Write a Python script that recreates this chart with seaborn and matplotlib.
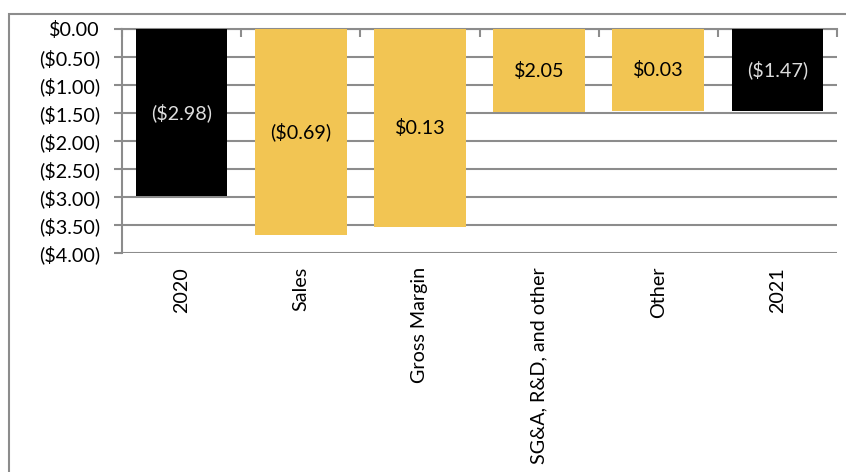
import matplotlib
matplotlib.use("Agg")
import matplotlib.pyplot as plt
from matplotlib.patches import Rectangle
from matplotlib.ticker import FixedLocator, FuncFormatter
import seaborn as sns
import pandas as pd
import numpy as np

categories = ["2020", "Sales", "Gross Margin", "SG&A, R&D, and other", "Other", "2021"]
changes = [-2.98, -0.69, 0.13, 2.05, 0.03, -1.47]
is_total = [True, False, False, False, False, True]
bar_ends = [-2.98, -3.67, -3.54, -1.49, -1.46, -1.47]

yellow = "#F2C553"
black = "#000000"
grid_gray = "#8C8C8C"

sns.set_theme(style="white")
plt.rcParams["font.family"] = ["Lato", "DejaVu Sans"]
FS = 14.2

df = pd.DataFrame({"cat": categories, "val": bar_ends})
palette = {c: (black if t else yellow) for c, t in zip(categories, is_total)}

fig = plt.figure(figsize=(8.46, 4.72), dpi=100)
ax = fig.add_axes([122 / 846, 1 - 253 / 472, (837 - 122) / 846, (253 - 29) / 472])

# outer chart frame
fig.patches.append(Rectangle((9 / 846, -0.1), 1.2, 1 - 14 / 472 + 0.1, transform=fig.transFigure,
                             fill=False, edgecolor=grid_gray, linewidth=1.5, zorder=0))

sns.barplot(data=df, x="cat", y="val", hue="cat", palette=palette, width=0.77,
            saturation=1, legend=False, ax=ax, zorder=3, linewidth=0)

ax.set_ylim(-4, 0)
ax.set_xlim(-0.5, 5.5)
ax.set_yticks(np.arange(-4, 0.01, 0.5))

def fmt(v, pos=None):
    if v < -1e-9:
        return "(${:.2f})".format(-v)
    return "${:.2f}".format(abs(v))

ax.yaxis.set_major_formatter(FuncFormatter(fmt))
for y in np.arange(-4, 0.01, 0.5):
    ax.axhline(y, color=grid_gray, linewidth=1.5, zorder=1)

for s in ["right", "bottom"]:
    ax.spines[s].set_visible(False)
ax.spines["left"].set_color(grid_gray)
ax.spines["left"].set_linewidth(1.5)
ax.spines["top"].set_color(grid_gray)
ax.spines["top"].set_linewidth(1.5)

ax.tick_params(axis="y", which="major", left=True, length=6, width=1.5, color=grid_gray,
               labelsize=FS, pad=10, labelcolor="black")
ax.xaxis.set_minor_locator(FixedLocator(np.arange(-0.5, 6, 1.0)))
ax.tick_params(axis="x", which="minor", top=True, bottom=False, direction="in",
               length=6, width=1.5, color=grid_gray)
ax.tick_params(axis="x", which="major", bottom=False, top=False, length=0,
               labelsize=FS, pad=10, labelcolor="black")
ax.set_xticks(range(len(categories)))
ax.set_xticklabels(categories, rotation=90, va="top", ha="center")
ax.set_xlabel("")
ax.set_ylabel("")

for i, (c, end, t) in enumerate(zip(changes, bar_ends, is_total)):
    ax.text(i, end / 2, fmt(c), ha="center", va="center", fontsize=FS,
            color="#DDDDDD" if t else "black", zorder=5)

fig.savefig("out.png", dpi=100)
